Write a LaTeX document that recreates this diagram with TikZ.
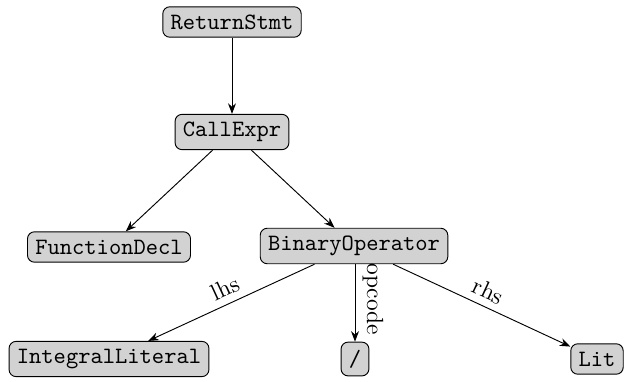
\documentclass[tikz,border=0pt]{standalone}
\usetikzlibrary{arrows.meta}

\begin{document}
\begin{tikzpicture}[x=0.4274pt, y=-0.4274pt,
    ast/.style={draw, fill=gray!35, rounded corners=3pt, font=\ttfamily, minimum height=13pt},
    edge/.style={-{Stealth[length=4.5pt, width=3.4pt]}},
    lbl/.style={sloped, above, inner sep=3pt}]
    \useasboundingbox (0,0) rectangle (626,381);

    \node[ast] (ret)    at (232,22)  {ReturnStmt};
    \node[ast] (call)   at (232,132) {CallExpr};
    \node[ast] (fdecl)  at (109,247) {FunctionDecl};
    \node[ast] (binop)  at (354,246) {BinaryOperator};
    \node[ast] (intlit) at (109,359) {IntegralLiteral};
    \node[ast] (slash)  at (355,359) {/};
    \node[ast] (lit)    at (597,359) {Lit};

    \draw[edge] (ret) -- (call);
    \draw[edge] (call) -- (fdecl);
    \draw[edge] (call) -- (binop);

    %% operands of the operator
    \draw[edge] (binop) -- node[lbl, pos=0.5] {lhs} (intlit);
    \draw[edge] (binop.south -| slash) -- node[lbl, pos=0.45] {opcode} (slash);
    \draw[edge] (binop) -- node[lbl, pos=0.5] {rhs} (lit);
\end{tikzpicture}
\end{document}
